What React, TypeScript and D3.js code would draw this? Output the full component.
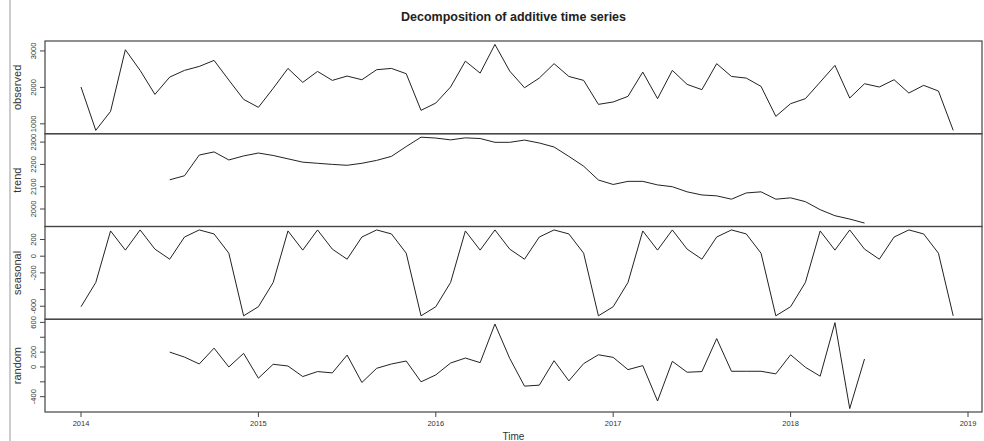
import React, { useEffect, useRef } from "react";
import * as d3 from "d3";

// monthly series, Jan 2014 .. Dec 2018
const startYear = 2014;
const yearTicks = [2014, 2015, 2016, 2017, 2018, 2019];

const observed = [
  2010, 822, 1342, 3033, 2466, 1808, 2282, 2466, 2575, 2740, 2200, 1671,
  1452, 1973, 2520, 2137, 2438, 2192, 2310, 2210, 2485, 2520, 2375, 1370,
  1570, 2010, 2720, 2392, 3178, 2447, 1990, 2255, 2650, 2300, 2192, 1534,
  1600, 1753, 2420, 1690, 2466, 2082, 1937, 2650, 2300, 2255, 2027, 1205,
  1553, 1690, 2145, 2603, 1708, 2100, 2010, 2210, 1845, 2055, 1900, 822,
];

const trend = [
  null, null, null, null, null, null, 2131, 2149, 2242, 2256, 2220, 2238,
  2251, 2240, 2225, 2210, 2205, 2200, 2196, 2205, 2218, 2236, 2280, 2322,
  2318, 2310, 2319, 2316, 2299, 2299, 2309, 2296, 2278, 2236, 2192, 2130,
  2110, 2124, 2124, 2108, 2100, 2077, 2063, 2059, 2044, 2072, 2077, 2044,
  2050, 2033, 1997, 1970, 1955, 1937, null, null, null, null, null, null,
];

const seasonal = [
  -606, -315, 303, 73, 315, 85, -36, 230, 315, 267, 36, -715,
  -606, -315, 303, 73, 315, 85, -36, 230, 315, 267, 36, -715,
  -606, -315, 303, 73, 315, 85, -36, 230, 315, 267, 36, -715,
  -606, -315, 303, 73, 315, 85, -36, 230, 315, 267, 36, -715,
  -606, -315, 303, 73, 315, 85, -36, 230, 315, 267, 36, -715,
];

const random = [
  null, null, null, null, null, null, 200, 133, 40, 253, 0, 183,
  -151, 36, 13, -129, -62, -80, 160, -209, -18, 40, 80, -200,
  -107, 53, 120, 58, 578, 116, -258, -245, 84, -187, 45, 164,
  129, -36, 18, -458, 76, -71, -62, 382, -58, -58, -58, -93,
  164, -4, -124, 596, -560, 107, null, null, null, null, null, null,
];

const panels = [
  { name: "observed", values: observed, ticks: [1000, 2000, 3000], labels: [1000, 2000, 3000] },
  { name: "trend", values: trend, ticks: [2000, 2100, 2200, 2300], labels: [2000, 2100, 2200, 2300] },
  { name: "seasonal", values: seasonal, ticks: [-600, -400, -200, 0, 200], labels: [-600, -200, 0, 200] },
  { name: "random", values: random, ticks: [-400, -200, 0, 200, 400, 600], labels: [-400, 0, 200, 600] },
];

const font = "'Liberation Sans', Arial, sans-serif";

export default function App() {
  const ref = useRef<SVGSVGElement>(null);

  useEffect(() => {
    const svg = d3.select(ref.current);
    svg.selectAll("*").remove();

    const left = 45;
    const right = 982;
    const top = 41;
    const bottom = 412;
    const ph = (bottom - top) / panels.length;

    const x = d3.scaleLinear().domain([2014, 2019]).range([81, 968]);

    // outer frame line on the left
    svg.append("line")
      .attr("x1", 10).attr("x2", 10).attr("y1", 0).attr("y2", 441)
      .attr("stroke", "#bbb").attr("stroke-width", 1.5);

    svg.append("text")
      .attr("x", (left + right) / 2).attr("y", 21)
      .attr("text-anchor", "middle")
      .style("font-family", font).style("font-size", "12.5px").style("font-weight", "bold")
      .attr("fill", "#222")
      .text("Decomposition of additive time series");

    panels.forEach((p, k) => {
      const y0 = top + k * ph;
      const y1 = y0 + ph;
      const vals = p.values.filter((v) => v !== null) as number[];
      const [mn, mx] = d3.extent(vals) as [number, number];
      const pad = (mx - mn) * 0.04;
      const y = d3.scaleLinear().domain([mn - pad, mx + pad]).range([y1, y0]);

      const g = svg.append("g");

      const line = d3.line<number | null>()
        .defined((d) => d !== null)
        .x((d, i) => x(startYear + i / 12))
        .y((d) => y(d as number));

      g.append("path")
        .datum(p.values)
        .attr("d", line)
        .attr("fill", "none")
        .attr("stroke", "#222")
        .attr("stroke-width", 1);

      g.append("rect")
        .attr("x", left).attr("y", y0)
        .attr("width", right - left).attr("height", ph)
        .attr("fill", "none").attr("stroke", "#444").attr("stroke-width", 1.2);

      p.ticks.forEach((t) => {
        g.append("line")
          .attr("x1", left - 5).attr("x2", left)
          .attr("y1", y(t)).attr("y2", y(t))
          .attr("stroke", "#444");
      });
      p.labels.forEach((t) => {
        g.append("text")
          .attr("transform", `translate(${left - 9}, ${y(t)}) rotate(-90)`)
          .attr("text-anchor", "middle")
          .style("font-family", font).style("font-size", "7.5px")
          .attr("fill", "#333")
          .text(String(t));
      });

      g.append("text")
        .attr("transform", `translate(${21}, ${(y0 + y1) / 2}) rotate(-90)`)
        .attr("text-anchor", "middle")
        .style("font-family", font).style("font-size", "11px")
        .attr("fill", "#333")
        .text(p.name);
    });

    yearTicks.forEach((t) => {
      svg.append("line")
        .attr("x1", x(t)).attr("x2", x(t))
        .attr("y1", bottom).attr("y2", bottom + 5)
        .attr("stroke", "#444");
      svg.append("text")
        .attr("x", x(t)).attr("y", bottom + 14)
        .attr("text-anchor", "middle")
        .style("font-family", font).style("font-size", "7.5px")
        .attr("fill", "#333")
        .text(String(t));
    });

    svg.append("text")
      .attr("x", (left + right) / 2).attr("y", 440)
      .attr("text-anchor", "middle")
      .style("font-family", font).style("font-size", "10px")
      .attr("fill", "#333")
      .text("Time");
  }, []);

  return (
    <svg
      ref={ref}
      width={984}
      height={441}
      style={{ position: "absolute", left: 0, top: 0, background: "#fff" }}
    />
  );
}
